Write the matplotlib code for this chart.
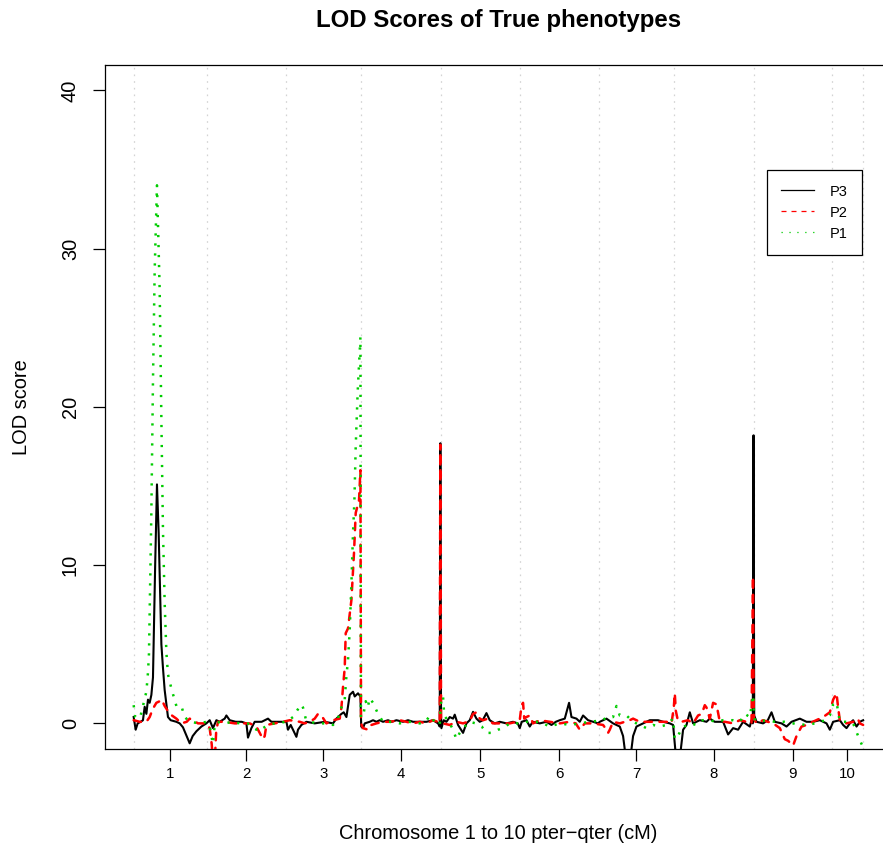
import matplotlib
matplotlib.use("Agg")
import matplotlib.pyplot as plt
from matplotlib.lines import Line2D

plt.rcParams['font.family'] = ['Liberation Sans', 'DejaVu Sans']
plt.rcParams['lines.scale_dashes'] = False

# chromosome boundaries along the genome (cM, cumulative)
chrom_bounds = [0, 73, 152, 227, 307, 386, 465, 540, 620, 698, 729]
chrom_labels = ['1', '2', '3', '4', '5', '6', '7', '8', '9', '10']

# P3 (black, solid)
p3_pos = [0, 2, 4, 7, 9.3, 11, 12.7, 14.3, 16, 17.7, 19.3, 21.5, 23.3, 25, 26.5, 27.7,
          29.3, 31, 34.3, 37, 42.7, 46, 49.3, 53, 56, 59, 62.7, 67.7, 72.7, 76, 79.3,
          82.7, 86, 91, 92.7, 96, 102, 108, 112.7, 114.3, 117.7, 121, 128, 134.3,
          137.7, 146, 152.7, 154.3, 157, 160, 162.7, 164.3, 167.7, 172.7, 181, 191,
          199.3, 202.7, 207.7, 210, 212.7, 216, 219.3, 221, 224.3, 226.7, 227.5, 229.3,
          231, 236, 239.3, 242.7, 246, 249.3, 254.3, 258, 262.7, 269.3, 274.3, 279.3,
          286, 292.7, 299.3, 304.3, 306, 306.6, 307.3, 307.7, 310, 312.7, 316, 319.3,
          321, 324.3, 329.3, 332.7, 336, 339.3, 342.7, 346, 349, 352.7, 356, 361, 366,
          372.7, 379.3, 384, 386, 388, 392.7, 396, 399, 406, 412.7, 417.7, 422, 426,
          431, 435.3, 437.7, 442.7, 446, 449.3, 454.3, 459.3, 464.3, 466, 469.3, 472.7,
          479.3, 486, 489.3, 492.7, 496, 499.3, 502.7, 509.3, 516, 524.3, 529.3, 536,
          539.3, 542.7, 546, 549.3, 552.7, 556, 559.3, 566, 572.7, 576, 581, 589.3,
          594.3, 599.3, 604.3, 609.3, 616, 617.7, 619, 619.7, 620.4, 622.7, 629.3, 634,
          637.7, 641, 647.7, 652.7, 657.7, 666, 672.7, 679.3, 686, 692.7, 696, 699.3,
          706, 709.3, 712.7, 716, 719.3, 722.7, 726, 729.3]
p3_lod = [0.4, -0.4, 0.0, 0.1, 0.2, 1.05, 0.6, 1.5, 1.3, 1.8, 2.9, 10, 15.1, 12, 8, 5.0,
          3.5, 2.1, 0.4, 0.2, 0.1, 0.0, -0.25, -0.8, -1.26, -0.8, -0.5, -0.2, 0.0, 0.2,
          -0.3, 0.2, 0.1, 0.3, 0.5, 0.2, 0.1, 0.1, 0.0, -0.9, -0.3, 0.1, 0.1, 0.3, 0.1,
          0.1, 0.1, -0.4, -0.1, -0.5, -0.85, -0.4, -0.1, 0.1, 0.0, 0.1, 0.0, 0.3, 0.6,
          0.7, 0.4, 1.8, 2.0, 1.7, 1.9, 1.7, -0.2, -0.3, 0.0, 0.1, 0.2, 0.1, 0.2, 0.1,
          0.2, 0.1, 0.2, 0.1, 0.2, 0.1, 0.1, 0.1, 0.2, 0.0, -0.2, 17.7, 0.5, -0.3, 0.2,
          0.1, 0.4, 0.3, 0.55, -0.1, -0.6, 0.0, 0.2, 0.73, 0.3, 0.1, 0.2, 0.65, 0.2,
          0.0, 0.1, 0.0, 0.1, 0.0, -0.3, 0.1, 0.2, -0.2, 0.1, 0.0, 0.1, -0.1, 0.1, 0.2,
          0.3, 1.3, 0.4, 0.3, 0.1, 0.5, 0.2, 0.1, 0.0, 0.1, 0.2, 0.3, 0.0, -0.2, -0.8,
          -2.5, -2.5, -0.8, -0.2, 0.0, 0.2, 0.2, 0.1, 0.0, -0.1, -2.5, -2.2, -0.4, -0.1,
          0.7, 0.0, 0.2, 0.1, 0.3, 0.1, 0.1, -0.7, -0.3, -0.4, 0.1, -0.2, 0.2, 0.0,
          18.2, 0.5, 0.1, 0.0, 0.2, 0.7, 0.1, 0.0, -0.2, 0.1, 0.3, 0.1, 0.1, 0.2, 0.0,
          -0.4, 0.1, 0.2, -0.1, -0.3, 0.0, 0.2, -0.2, 0.1, 0.2]

# P2 (red, dashed)
p2_pos = [0, 6, 12.7, 16, 19, 22.7, 26, 28, 31, 36, 42.7, 47.7, 53, 56, 59.3, 64.3, 72.7,
          76, 78, 79.5, 81, 82.5, 84.3, 91, 101, 109.3, 116, 122.7, 126, 129.3, 131,
          132.7, 141, 149.3, 156, 166, 171, 176, 181, 184.3, 187.7, 192.7, 199.3, 206,
          207.7, 209.3, 211, 212, 214.3, 217.7, 220.3, 222, 223.7, 225.3, 226.7, 227.3,
          229.3, 234.3, 237.7, 242.7, 249.3, 256, 266, 272.7, 279.3, 286, 292.7, 299.3,
          304, 306, 306.6, 307.3, 309.3, 316, 322.7, 329.3, 336, 339.3, 342.7, 346,
          349.3, 354.3, 359, 366, 376, 382.7, 386, 387.7, 389.3, 390.5, 392.7, 396,
          399.3, 406, 416, 426, 436, 442, 446, 451, 459, 469.3, 472.7, 474.3, 476,
          479.3, 486, 496, 499.3, 506, 512.7, 519.3, 526, 532.7, 537.7, 540, 541, 542,
          544, 547.7, 554.3, 559.3, 564.3, 568, 571, 572.7, 576, 579.3, 582.7, 586, 591,
          599.3, 606, 612.7, 617.7, 619.2, 620, 622.7, 629.3, 634, 639.3, 646, 651,
          654.3, 659.3, 662.7, 667.7, 672.7, 679, 686, 689.3, 696, 699.3, 702.7, 704.3,
          706, 712.7, 719.3, 724, 726, 729.3]
p2_lod = [0.2, 0.1, 0.1, 0.4, 0.9, 1.3, 1.4, 1.5, 1.1, 0.6, 0.3, 0.0, 0.1, 0.3, 0.2, 0.0,
          0.0, -0.3, -1.3, -2.5, -2.5, -0.5, 0.1, 0.1, 0.0, 0.0, 0.0, -0.2, -0.6, -1.0,
          -0.8, -0.1, 0.0, 0.1, 0.2, 0.1, 0.0, 0.1, 0.3, 0.6, 0.5, 0.0, 0.2, 0.3, 1.0,
          2.3, 3.5, 5.7, 6.0, 7.8, 10.8, 13.3, 13.7, 14.1, 16.0, 0.0, -0.3, -0.4, -0.1,
          0.0, 0.1, 0.1, 0.2, 0.1, 0.0, 0.1, 0.0, 0.2, 0.1, 0.0, 17.6, 0.3, 0.0, -0.1,
          0.1, 0.0, 0.15, 0.6, 0.7, 0.3, 0.2, 0.3, 0.0, 0.0, 0.0, 0.1, 0.2, 1.1, 1.3,
          0.3, 0.4, 0.5, 0.0, 0.2, 0.1, 0.0, 0.1, 0.0, -0.4, 0.0, 0.0, -0.1, -0.4, -0.6,
          -0.4, 0.1, 0.0, 0.2, 0.3, 0.1, 0.1, 0.1, 0.1, 0.1, 0.0, 1.0, 1.9, 0.8, 0.2,
          0.1, 0.2, 0.0, 0.5, 0.6, 1.15, 1.0, 0.3, 1.3, 1.2, 0.1, 0.1, 0.0, 0.2, 0.1,
          0.0, 9.3, 0.3, 0.0, 0.2, 0.1, 0.0, -0.3, -1.0, -1.1, -1.4, -0.8, -0.2, -0.1,
          0.1, 0.3, 0.4, 0.7, 1.5, 1.9, 1.0, 0.2, 0.0, 0.1, 0.3, 0.0, -0.1]

# P1 (green, dotted)
p1_pos = [0, 1.5, 4, 7, 10, 12.7, 14.3, 15.3, 16, 17.7, 19.3, 21, 23.3, 26, 27.7, 29.3,
          31, 32.7, 34.3, 37.7, 42.7, 47.7, 51, 56, 66, 72.7, 76, 77.7, 79.3, 80.5,
          82.7, 91, 99, 106, 114, 118, 122.7, 126, 129.3, 134.3, 141, 152.7, 159.3,
          164.3, 167, 169.3, 172, 176, 184, 192.7, 199.3, 204.3, 206, 207.7, 211,
          212.7, 214.3, 216, 217.7, 219.3, 220.7, 222, 224, 226.7, 227.2, 229.3, 232,
          234, 236, 239.3, 244.3, 249.3, 256, 266, 276, 286, 292, 296, 301, 304.3, 306,
          306.8, 307.7, 309.3, 310.5, 312.7, 316, 319.3, 322.7, 326, 329.3, 336, 342,
          348, 352.7, 357.7, 364.3, 369.3, 376, 386, 392.7, 406, 416, 426, 436, 446,
          456, 469.3, 472.7, 479.3, 482.7, 486, 489.3, 492.7, 499.3, 506, 512.7, 519.3,
          526, 532.7, 539.3, 541, 544.3, 547.7, 556, 562.7, 569, 576, 582, 589.3, 599.3,
          606, 611, 616, 619.3, 620.5, 624.3, 632.7, 641, 651, 659.3, 666, 682.7, 691,
          696, 699.3, 702.7, 706, 712.7, 719.3, 724.3, 727.7, 729.3]
p1_lod = [1.15, 0.4, 0.3, 0.5, 1.3, 2.0, 3.2, 4.4, 7.1, 13.4, 21.6, 28.6, 34.0, 27.4,
          19.2, 12.2, 7.6, 4.5, 3.1, 2.2, 1.1, 1.1, 0.4, 0.1, 0.0, 0.1, -0.2, -0.8, -1.3,
          -0.4, 0.1, 0.0, 0.1, 0.0, 0.0, -0.2, -0.4, -0.2, -0.3, -0.1, 0.0, 0.1, 0.4,
          0.9, 1.2, 1.0, 0.3, 0.1, 0.0, 0.0, -0.1, 0.3, 0.85, 1.0, 1.5, 3.0, 4.0, 5.9,
          8.85, 12.0, 14.1, 17.5, 21.0, 24.4, 0.4, 0.4, 1.4, 1.0, 1.6, 1.3, 0.6, 0.1,
          0.1, 0.0, 0.1, 0.0, 0.1, 0.5, 0.1, 0.0, -0.1, 0.9, 1.7, 1.7, 0.5, 0.3, 0.0,
          -0.4, -1.0, -0.6, -0.3, 0.1, 0.0, -0.2, -0.6, -0.6, -0.4, -0.3, 0.0, 0.0, 0.1,
          0.1, -0.2, 0.0, -0.1, 0.0, 0.1, 0.2, 0.4, 0.4, 1.1, 0.5, 0.5, 0.5, 0.1, -0.1,
          -0.3, -0.1, -0.2, -0.1, 0.3, -1.0, -0.8, -0.3, 0.0, -0.1, 0.2, 0.2, 0.1, 0.2,
          0.2, 0.1, 0.6, 0.4, 1.8, 0.3, 0.1, 0.2, 0.1, 0.1, 0.0, -0.1, 0.0, 0.2, 0.5,
          1.2, 1.35, 0.1, 0.1, 0.0, -0.8, -1.3, -1.5]

W, H = 883, 849
fig = plt.figure(figsize=(W / 100, H / 100), dpi=100)
# plot region in pixels: x 104.5..892 (runs past the right edge), y 65..748.7
ax = fig.add_axes([104.5 / W, (H - 748.7) / H, (892 - 104.5) / W, (748.7 - 65) / H])

span = chrom_bounds[-1] - chrom_bounds[0]
ax.set_xlim(chrom_bounds[0] - 0.04 * span, chrom_bounds[-1] + 0.04 * span)
ax.set_ylim(-1.6, 41.6)

for b in chrom_bounds:
    ax.axvline(b, color='lightgray', lw=0.9, linestyle=(0, (1.2, 3.6)), zorder=0)

ax.plot(p3_pos, p3_lod, color='black', lw=1.5, solid_joinstyle='round', zorder=2)
ax.plot(p2_pos, p2_lod, color='red', lw=1.8, linestyle=(0, (5.4, 5.4)),
        dash_capstyle='round', zorder=3)
ax.plot(p1_pos, p1_lod, color='#00CD00', lw=1.8, linestyle=(0, (1.6, 5.6)),
        dash_capstyle='butt', zorder=4)

mids = [(a + b) / 2 for a, b in zip(chrom_bounds[:-1], chrom_bounds[1:])]
ax.set_xticks(mids)
ax.set_xticklabels(chrom_labels)
ax.set_yticks([0, 10, 20, 30, 40])
ax.tick_params(axis='x', length=8.6, width=0.9, pad=4.7, labelsize=10.8)
ax.tick_params(axis='y', length=8.6, width=0.9, pad=16, labelsize=14.4,
               labelrotation=90)
for lab in ax.get_yticklabels():
    lab.set_ha('center')
    lab.set_va('center')
for s in ax.spines.values():
    s.set_linewidth(0.9)

handles = [
    Line2D([], [], color='black', lw=0.9),
    Line2D([], [], color='red', lw=0.9, linestyle=(0, (3.6, 3.6))),
    Line2D([], [], color='#00CD00', lw=0.9, linestyle=(0, (0.9, 4.8))),
]
leg = ax.legend(handles, ['P3', 'P2', 'P1'], loc='upper left',
                bbox_to_anchor=(0.8409, 0.8464), borderaxespad=0, fontsize=10.5,
                fancybox=False, edgecolor='black', framealpha=1, handlelength=2.26,
                handletextpad=1.07, labelspacing=0.48, borderpad=1.0)
leg.get_frame().set_linewidth(0.9)

fig.text(498.25 / W, (H - 26.5) / H, 'LOD Scores of True phenotypes', fontsize=17.3,
         fontweight='bold', ha='center', va='baseline')
fig.text(498.25 / W, (H - 839) / H, 'Chromosome 1 to 10 pter\u2212qter (cM)',
         fontsize=14.4, ha='center', va='baseline')
fig.text(27 / W, (H - 406.9) / H, 'LOD score', fontsize=14.4, rotation=90,
         rotation_mode='anchor', ha='center', va='baseline')

fig.savefig('out.png', dpi=100)
